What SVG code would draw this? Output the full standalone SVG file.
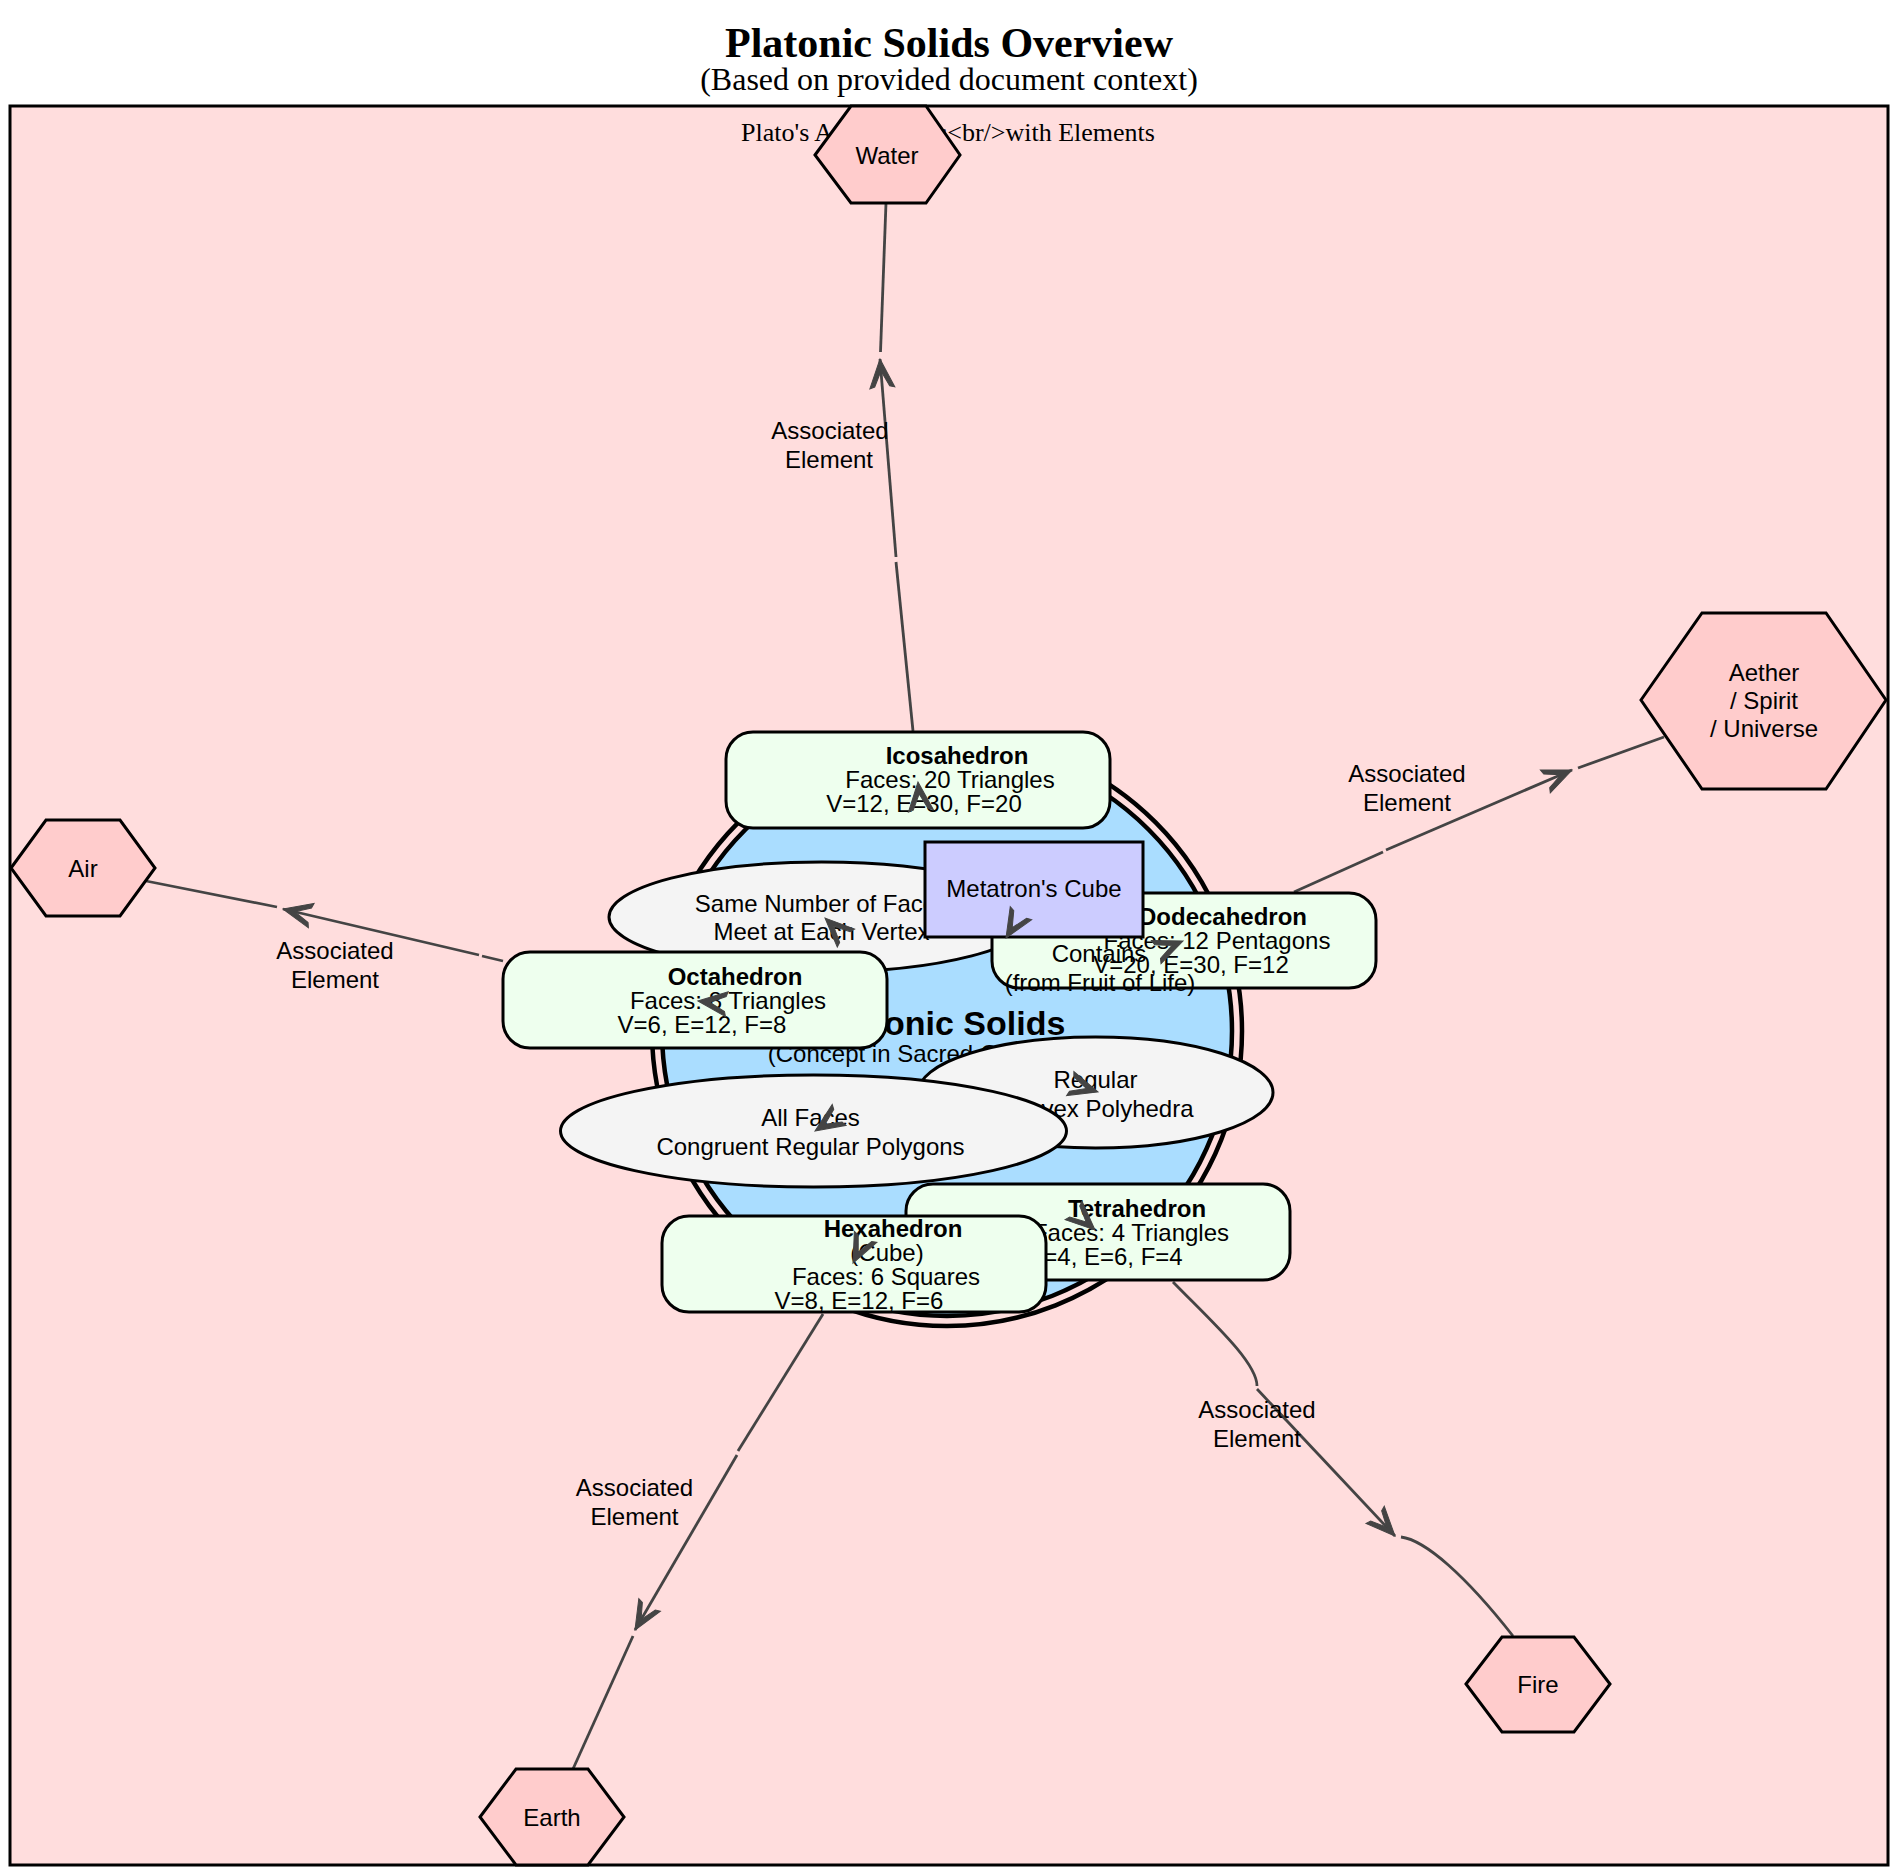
<svg xmlns="http://www.w3.org/2000/svg" width="1898" height="1876" viewBox="0 0 1898 1876">
<style>
.sans{font-family:"Liberation Sans",Arial,sans-serif;font-size:24px;fill:#000;text-anchor:middle}
.b{font-weight:bold}
.big{font-size:34px}
.serif{font-family:"Liberation Serif","Times New Roman",serif;fill:#000;text-anchor:middle}
.cluster{fill:#FFDDDD;stroke:#000;stroke-width:3}
.hex{fill:#FFCCCC;stroke:#000;stroke-width:3}
.solid{fill:#EEFFEE;stroke:#000;stroke-width:3}
.prop{fill:#F4F4F4;stroke:#000;stroke-width:3}
.meta{fill:#CCCCFF;stroke:#000;stroke-width:3}
.edge{fill:none;stroke:#444;stroke-width:2.8}
.tip{fill:none;stroke:none}
</style>
<defs>
<marker id="ah" markerUnits="userSpaceOnUse" markerWidth="48" markerHeight="40" viewBox="0 0 48 40" refX="40" refY="20" orient="auto" overflow="visible">
<path d="M40,20 L11,7.5 L12.5,12.5 L28,20 L12.5,27.5 L11,32.5 Z" fill="#444" stroke="#444" stroke-width="1" stroke-linejoin="miter"/>
</marker>
</defs>
<rect width="1898" height="1876" fill="#FFFFFF"/>
<g id="title">
<text class="serif" x="949" y="57" font-size="42" font-weight="bold">Platonic Solids Overview</text>
<text class="serif" x="949" y="90" font-size="32">(Based on provided document context)</text>
</g>
<g id="cluster-elements">
<rect class="cluster" x="10" y="106" width="1878" height="1759"/>
<text class="serif" x="948" y="141" font-size="26">Plato's Associations&lt;br/&gt;with Elements</text>
</g>
<g id="connectors">
<path class="edge" d="M913,731 L896,562"/>
<path class="edge" d="M896,557 L880,359" marker-end="url(#ah)"/>
<path class="edge" d="M880.5,352 L886,203"/>
<path class="edge" d="M503,961 L482,956"/>
<path class="edge" d="M479,955 L283,909" marker-end="url(#ah)"/>
<path class="edge" d="M277,907 L146,881"/>
<path class="edge" d="M1294,892 L1383,852"/>
<path class="edge" d="M1386,850 L1572,770" marker-end="url(#ah)"/>
<path class="edge" d="M1578,768 L1664,737"/>
<path class="edge" d="M823,1314 L738,1451"/>
<path class="edge" d="M737,1455 L635,1630" marker-end="url(#ah)"/>
<path class="edge" d="M633,1636 L573,1769"/>
<path class="edge" d="M1173,1282 C1210,1320 1257,1362 1257,1386"/>
<path class="edge" d="M1257,1389 L1395,1536" marker-end="url(#ah)"/>
<path class="edge" d="M1401,1537 C1425,1540 1465,1575 1513,1636"/>
</g>
<g id="node-water">
<polygon class="hex" points="815,155 851,106 926,106 960,155 926,203 851,203"/>
<text class="sans" x="887" y="163.5">Water</text>
</g>
<g id="node-air">
<polygon class="hex" points="11,868 46,820 120,820 155,868 120,916 46,916"/>
<text class="sans" x="83" y="876.5">Air</text>
</g>
<g id="node-aether">
<polygon class="hex" points="1641,700 1702,613 1826,613 1886,700 1826,789 1702,789"/>
<text class="sans" x="1764" y="680.5">Aether</text>
<text class="sans" x="1764" y="708.5">/ Spirit</text>
<text class="sans" x="1764" y="736.5">/ Universe</text>
</g>
<g id="node-earth">
<polygon class="hex" points="480,1817 516,1769 588,1769 624,1817 588,1865 516,1865"/>
<text class="sans" x="552" y="1825.5">Earth</text>
</g>
<g id="node-fire">
<polygon class="hex" points="1466,1684 1502,1637 1574,1637 1610,1684 1574,1732 1502,1732"/>
<text class="sans" x="1538" y="1692.5">Fire</text>
</g>
<g id="node-platonic">
<circle cx="947" cy="1031" r="295" fill="none" stroke="#000" stroke-width="4.5"/>
<circle cx="947" cy="1031" r="285" fill="#AADDFF" stroke="#000" stroke-width="4.5"/>
<text class="sans b big" x="943.5" y="1035">Platonic Solids</text>
<text class="sans" x="930.5" y="1061.5">(Concept in Sacred Geometry)</text>
</g>
<g id="node-icosahedron">
<rect class="solid" x="726" y="732" width="384" height="96" rx="27" ry="27"/>
<text class="sans b" x="957" y="763.5">Icosahedron</text>
<text class="sans" x="950" y="787.5">Faces: 20 Triangles</text>
<text class="sans" x="924" y="811.5">V=12, E=30, F=20</text>
</g>
<g id="node-same-number">
<ellipse class="prop" cx="821.5" cy="917" rx="212.5" ry="55"/>
<text class="sans" x="821.5" y="911.5">Same Number of Faces</text>
<text class="sans" x="821.5" y="939.5">Meet at Each Vertex</text>
</g>
<g id="node-octahedron">
<rect class="solid" x="503" y="952" width="384" height="96" rx="27" ry="27"/>
<text class="sans b" x="735" y="984.5">Octahedron</text>
<text class="sans" x="728" y="1008.5">Faces: 8 Triangles</text>
<text class="sans" x="702" y="1032.5">V=6, E=12, F=8</text>
</g>
<g id="node-dodecahedron">
<rect class="solid" x="992" y="893" width="384" height="95" rx="27" ry="27"/>
<text class="sans b" x="1223" y="924.5">Dodecahedron</text>
<text class="sans" x="1217" y="948.5">Faces: 12 Pentagons</text>
<text class="sans" x="1191" y="972.5">V=20, E=30, F=12</text>
</g>
<g id="node-metatron">
<rect class="meta" x="925" y="842" width="218" height="95"/>
<text class="sans" x="1034" y="896.5">Metatron's Cube</text>
</g>
<g id="node-regular">
<ellipse class="prop" cx="1095.5" cy="1092.5" rx="177.5" ry="55.5"/>
<text class="sans" x="1095.5" y="1087.5">Regular</text>
<text class="sans" x="1095.5" y="1116.5">Convex Polyhedra</text>
</g>
<g id="node-all-faces">
<ellipse class="prop" cx="813.5" cy="1131" rx="253" ry="56"/>
<text class="sans" x="810.5" y="1125.5">All Faces</text>
<text class="sans" x="810.5" y="1154.5">Congruent Regular Polygons</text>
</g>
<g id="node-tetrahedron">
<rect class="solid" x="906" y="1184" width="384" height="96" rx="27" ry="27"/>
<text class="sans b" x="1137" y="1216.5">Tetrahedron</text>
<text class="sans" x="1131" y="1240.5">Faces: 4 Triangles</text>
<text class="sans" x="1105" y="1264.5">V=4, E=6, F=4</text>
</g>
<g id="node-hexahedron">
<rect class="solid" x="662" y="1216" width="384" height="96" rx="27" ry="27"/>
<text class="sans b" x="893" y="1236.5">Hexahedron</text>
<text class="sans" x="887" y="1260.5">(Cube)</text>
<text class="sans" x="886" y="1284.5">Faces: 6 Squares</text>
<text class="sans" x="859" y="1308.5">V=8, E=12, F=6</text>
</g>
<g id="edge-labels">
<text class="sans" x="1099" y="961.5">Contains</text>
<text class="sans" x="1100" y="990.5">(from Fruit of Life)</text>
<text class="sans" x="830" y="438.5">Associated</text>
<text class="sans" x="829" y="467.5">Element</text>
<text class="sans" x="335" y="958.5">Associated</text>
<text class="sans" x="335" y="987.5">Element</text>
<text class="sans" x="1407" y="781.5">Associated</text>
<text class="sans" x="1407" y="810.5">Element</text>
<text class="sans" x="634.5" y="1495.5">Associated</text>
<text class="sans" x="634.5" y="1524.5">Element</text>
<text class="sans" x="1257" y="1417.5">Associated</text>
<text class="sans" x="1257" y="1446.5">Element</text>
</g>
<g id="arrowheads">
<path class="tip" d="M920,802 L918,782" marker-end="url(#ah)"/>
<path class="tip" d="M839.4,931.8 L825,918" marker-end="url(#ah)"/>
<path class="tip" d="M717.9,1003.2 L698,1001" marker-end="url(#ah)"/>
<path class="tip" d="M831.7,1119.9 L815,1131" marker-end="url(#ah)"/>
<path class="tip" d="M1078.9,1086.2 L1098,1092" marker-end="url(#ah)"/>
<path class="tip" d="M1080.2,1216.5 L1095,1230" marker-end="url(#ah)"/>
<path class="tip" d="M861.7,1245 L853,1263" marker-end="url(#ah)"/>
<path class="tip" d="M1164.5,948.7 L1183,941" marker-end="url(#ah)"/>
<path class="tip" d="M1016.3,920.9 L1006,938" marker-end="url(#ah)"/>
</g>
</svg>
